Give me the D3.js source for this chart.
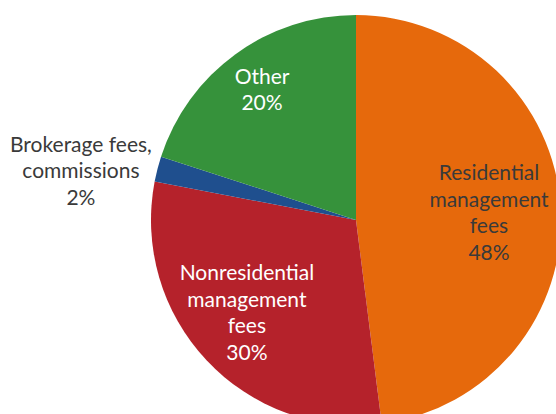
<!DOCTYPE html>
<html>
<head>
<meta charset="utf-8">
<script src="https://cdn.jsdelivr.net/npm/d3@7"></script>
<style>
  html, body { margin: 0; padding: 0; background: #fff; }
  svg { display: block; }
</style>
</head>
<body>
<svg id="chart" width="556" height="414"></svg>
<script>
// Revenue shares by source (percent)
const categories = [
  "Residential management fees",
  "Nonresidential management fees",
  "Brokerage fees, commissions",
  "Other"
];
const values = [48, 30, 2, 20];
// Label lines as displayed on the chart
const labelLines = [
  ["Residential", "management", "fees"],
  ["Nonresidential", "management", "fees"],
  ["Brokerage fees,", "commissions"],
  ["Other"]
];
const colors = ["#E6690C", "#B5222B", "#1F4F8E", "#36923B"];

// Label placement: radius as fraction of the pie radius, plus fine offsets
const labelLayout = [
  { r: 0.65, dx: 0, dy: 1, fill: "#3a3a3a" },
  { r: 0.69, dx: -6, dy: -4, fill: "#ffffff" },
  { r: 1.34, dx: -9, dy: 19, fill: "#3a3a3a" },
  { r: 0.78, dx: 0, dy: -1, fill: "#ffffff" }
];

const width = 556, height = 414;
const cx = 356, cy = 220, R = 205;
const fontSize = 21, lineH = 26.5;

const svg = d3.select("#chart");
const g = svg.append("g").attr("transform", `translate(${cx},${cy})`);

const data = categories.map((c, i) => ({ name: c, value: values[i], i }));

const pie = d3.pie().sort(null).value(d => d.value);
const arc = d3.arc().innerRadius(0).outerRadius(R);
const arcs = pie(data);

g.selectAll("path.slice")
  .data(arcs)
  .join("path")
  .attr("class", "slice")
  .attr("d", arc)
  .attr("fill", d => colors[d.data.i]);

const labels = g.selectAll("text.label")
  .data(arcs)
  .join("text")
  .attr("class", "label")
  .attr("text-anchor", "middle")
  .attr("font-family", "Lato, 'Open Sans', sans-serif")
  .attr("font-size", fontSize)
  .attr("fill", d => labelLayout[d.data.i].fill)
  .attr("transform", d => {
    const L = labelLayout[d.data.i];
    const [x, y] = d3.arc().innerRadius(R * L.r).outerRadius(R * L.r).centroid(d);
    return `translate(${x + L.dx},${y + L.dy})`;
  });

labels.each(function(d) {
  const lines = labelLines[d.data.i].concat([d.data.value + "%"]);
  const n = lines.length;
  const t = d3.select(this);
  lines.forEach((ln, k) => {
    t.append("tspan")
      .attr("x", 0)
      .attr("y", (k - (n - 1) / 2) * lineH)
      .attr("dy", "0.35em")
      .text(ln);
  });
});
</script>
</body>
</html>
